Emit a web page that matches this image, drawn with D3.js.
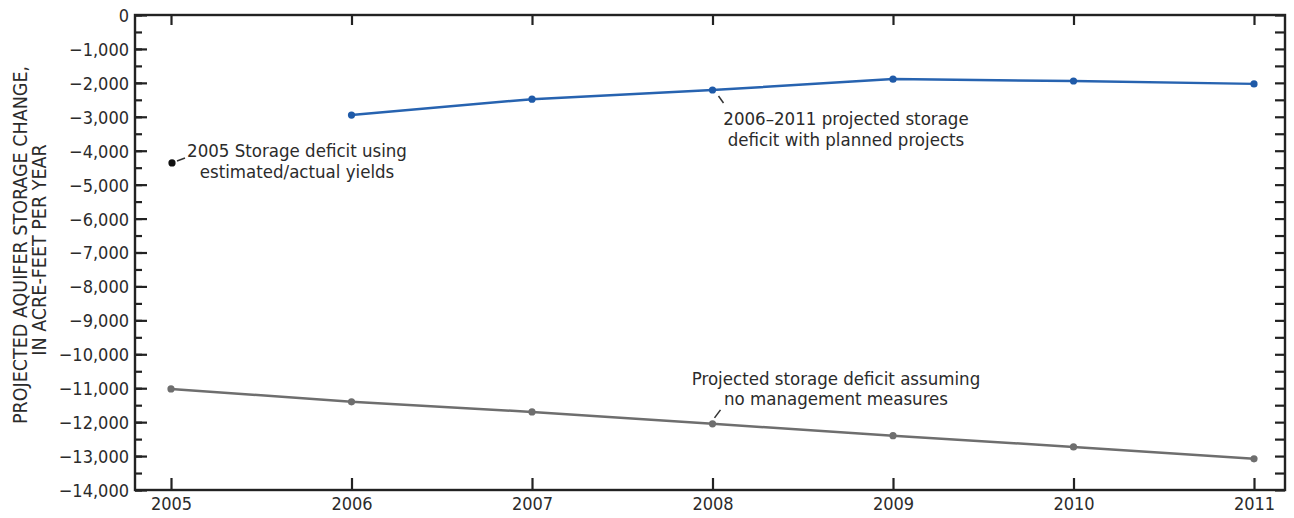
<!DOCTYPE html>
<html>
<head>
<meta charset="utf-8">
<script src="https://cdn.jsdelivr.net/npm/d3@7"></script>
<style>
  body { margin: 0; background: #fff; }
  svg text { font-family: "Liberation Sans Narrow", "DejaVu Sans Condensed", "Roboto Condensed", sans-serif; fill: #2b2b2b; }
  .axisLabel text { font-size: 18px; }
  .axisLabel path, .axisLabel line, .ticks path, .ticks line { stroke: #222; stroke-width: 2.2; }
  .note { font-size: 18.5px; }
  .axisTitle { font-size: 19.5px; }
</style>
</head>
<body>
<svg id="chart" width="1294" height="518"></svg>
<script>
// data
var years = [2005, 2006, 2007, 2008, 2009, 2010, 2011];
var plannedYears = [2006, 2007, 2008, 2009, 2010, 2011];
var plannedValues = [-2950, -2480, -2210, -1890, -1945, -2030];
var noMgmtValues = [-11020, -11400, -11700, -12050, -12400, -12730, -13080];
var actual2005 = [{year: 2005, value: -4360}];
var yTicks = d3.range(0, -14001, -1000);
var yMinorTicks = d3.range(0, -14001, -500);

var svg = d3.select("#chart"),
    width = 1294, height = 518,
    margin = {top: 15, right: 9, bottom: 28, left: 135};

var plotLeft = margin.left, plotRight = width - margin.right,
    plotTop = margin.top, plotBottom = height - margin.bottom;

var x = d3.scaleLinear()
      .domain([2005, 2011])
      .range([171, 1254]);

var y = d3.scaleLinear()
      .domain([-14000, 0])
      .range([plotBottom, plotTop]);

// minor ticks on left
svg.append("g")
    .attr("class", "ticks")
    .attr("transform", "translate(" + plotLeft + ",0)")
    .call(d3.axisLeft(y).tickValues(yMinorTicks).tickSize(-7).tickFormat(""))
    .call(g => g.select(".domain").remove());

// left axis with labels
svg.append("g")
    .attr("class", "axisLabel")
    .attr("transform", "translate(" + plotLeft + ",0)")
    .call(d3.axisLeft(y).tickValues(yTicks).tickSize(-12).tickPadding(6).tickFormat(d3.format(",")))
    .call(g => g.select(".domain").remove())
    .call(g => g.selectAll("text").attr("dy", "0.36em"));

// right ticks
svg.append("g")
    .attr("class", "ticks")
    .attr("transform", "translate(" + plotRight + ",0)")
    .call(d3.axisRight(y).tickValues(yMinorTicks).tickSize(-10).tickFormat(""))
    .call(g => g.select(".domain").remove());

// top ticks
svg.append("g")
    .attr("class", "ticks")
    .attr("transform", "translate(0," + plotTop + ")")
    .call(d3.axisTop(x).tickValues(years).tickSize(-10).tickFormat(""))
    .call(g => g.select(".domain").remove());

// bottom axis
svg.append("g")
    .attr("class", "axisLabel")
    .attr("transform", "translate(0," + plotBottom + ")")
    .call(d3.axisBottom(x).tickValues(years).tickSize(-12).tickPadding(7).tickFormat(d3.format("d")))
    .call(g => g.select(".domain").remove());

// frame
svg.append("rect")
    .attr("x", plotLeft)
    .attr("y", plotTop)
    .attr("width", plotRight - plotLeft)
    .attr("height", plotBottom - plotTop)
    .style("fill", "none")
    .style("stroke", "#222")
    .style("stroke-width", 2.4);

// axis title
var yTitle = svg.append("text")
    .attr("class", "axisTitle")
    .attr("transform", "rotate(-90)")
    .attr("text-anchor", "middle");
yTitle.append("tspan")
    .attr("x", -245).attr("y", 27)
    .text("PROJECTED AQUIFER STORAGE CHANGE,");
yTitle.append("tspan")
    .attr("x", -250).attr("y", 46)
    .text("IN ACRE-FEET PER YEAR");

var line = d3.line()
    .x(d => x(d.year))
    .y(d => y(d.value));

var noMgmt = years.map((yr, i) => ({year: yr, value: noMgmtValues[i]}));
var planned = plannedYears.map((yr, i) => ({year: yr, value: plannedValues[i]}));

svg.append("path")
    .datum(noMgmt)
    .attr("d", line)
    .style("fill", "none")
    .style("stroke", "#6e6e6e")
    .style("stroke-width", 2.5);

svg.selectAll("circle.noMgmt")
    .data(noMgmt)
    .enter()
    .append("circle")
    .attr("class", "noMgmt")
    .attr("cx", d => x(d.year))
    .attr("cy", d => y(d.value))
    .attr("r", 3.6)
    .style("fill", "#6e6e6e");

svg.append("path")
    .datum(planned)
    .attr("d", line)
    .style("fill", "none")
    .style("stroke", "#2763b0")
    .style("stroke-width", 2.5);

svg.selectAll("circle.planned")
    .data(planned)
    .enter()
    .append("circle")
    .attr("class", "planned")
    .attr("cx", d => x(d.year))
    .attr("cy", d => y(d.value))
    .attr("r", 3.6)
    .style("fill", "#1f5aa8");

svg.selectAll("circle.actual")
    .data(actual2005)
    .enter()
    .append("circle")
    .attr("class", "actual")
    .attr("cx", d => x(d.year) + 1)
    .attr("cy", d => y(d.value))
    .attr("r", 3.6)
    .style("fill", "#111");

// annotations
function note(lines, cx, y0, dy) {
  var t = svg.append("text").attr("class", "note").attr("text-anchor", "middle");
  lines.forEach(function(s, i) {
    t.append("tspan").attr("x", cx).attr("y", y0 + i * dy).text(s);
  });
}
function leader(x1, y1, x2, y2) {
  svg.append("line")
    .attr("x1", x1).attr("y1", y1).attr("x2", x2).attr("y2", y2)
    .style("stroke", "#333").style("stroke-width", 1.5);
}

note(["2005 Storage deficit using", "estimated/actual yields"], 297, 157, 21);
leader(x(2005) + 6, y(actual2005[0].value) - 2, x(2005) + 14, y(actual2005[0].value) - 5);

note(["2006\u20132011 projected storage", "deficit with planned projects"], 846, 125, 21);
leader(x(2008) + 6, y(plannedValues[2]) + 6, x(2008) + 11, y(plannedValues[2]) + 13);

note(["Projected storage deficit assuming", "no management measures"], 836, 385, 20);
leader(x(2008) + 2, y(noMgmtValues[3]) - 6, x(2008) + 8, y(noMgmtValues[3]) - 14);
</script>
</body>
</html>
